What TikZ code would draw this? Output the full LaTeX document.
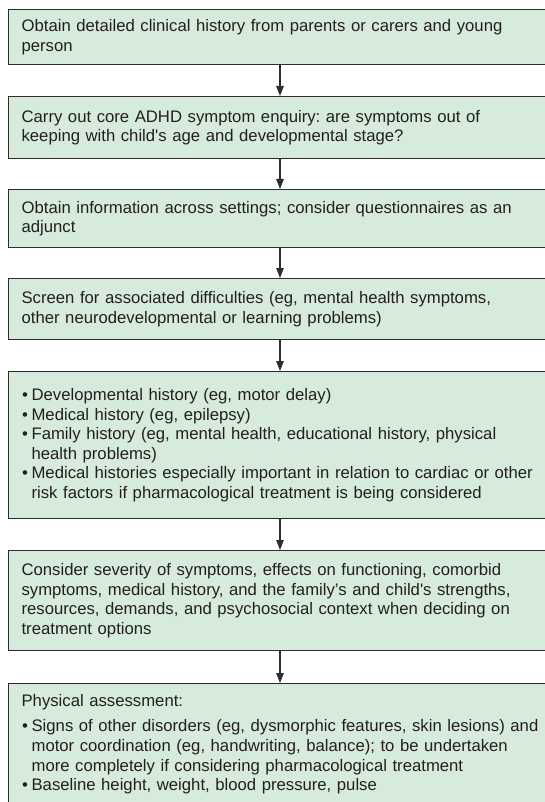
\documentclass[tikz,border=0pt]{standalone}
\usepackage{fontspec}
\setmainfont{Liberation Sans}
\usetikzlibrary{arrows.meta}
\definecolor{boxfill}{RGB}{214,235,220}
\definecolor{boxline}{RGB}{45,45,45}
\definecolor{txt}{RGB}{35,31,32}
\newcommand{\bul}{\makebox[10pt][l]{\hspace{0.5pt}\textbullet}}
\newcommand{\cont}{\hspace*{10pt}}
\newcommand{\sq}{\textquotesingle}
\begin{document}
\frenchspacing
\begin{tikzpicture}[x=1pt,y=-1pt,
  stepbox/.style={draw=boxline, fill=boxfill, line width=1.2pt, anchor=north west,
    text width=560pt, inner xsep=13pt, inner ysep=0pt, align=left, text=txt,
    font=\fontsize{16.7}{19.6}\selectfont\frenchspacing},
  flowarrow/.style={draw=boxline, line width=1.1pt, -{Triangle[length=10pt,width=7.5pt]}}]
\useasboundingbox (0,0) rectangle (545,802);
\clip (0,0) rectangle (545,802);
\coordinate (ax) at (280,0);
\node[stepbox, minimum height=55pt] (b1) at (8,9)
  {Obtain detailed clinical history from parents or carers and young\\person};
\node[stepbox, minimum height=62pt] (b2) at (8,96)
  {Carry out core ADHD symptom enquiry: are symptoms out of\\keeping with child\sq s age and developmental stage?};
\node[stepbox, minimum height=58pt] (b3) at (8,189)
  {Obtain information across settings; consider questionnaires as an\\adjunct};
\node[stepbox, minimum height=61pt] (b4) at (8,278)
  {Screen for associated difficulties (eg, mental health symptoms,\\other neurodevelopmental or learning problems)};
\node[stepbox, minimum height=147pt] (b5) at (8,371)
  {\bul Developmental history (eg, motor delay)\\
   \bul Medical history (eg, epilepsy)\\
   \bul Family history (eg, mental health, educational history, physical\\
   \cont health problems)\\
   \bul Medical histories especially important in relation to cardiac or other\\
   \cont risk factors if pharmacological treatment is being considered};
\node[stepbox, minimum height=100pt] (b6) at (8,550)
  {Consider severity of symptoms, effects on functioning, comorbid\\
   symptoms, medical history, and the family’s and child\sq s strengths,\\
   resources, demands, and psychosocial context when deciding on\\
   treatment options};
\node[stepbox, inner ysep=10.5pt] (b7) at (8,683)
  {Physical assessment:\\[6pt]
   \bul Signs of other disorders (eg, dysmorphic features, skin lesions) and\\
   \cont motor coordination (eg, handwriting, balance); to be undertaken\\
   \cont more completely if considering pharmacological treatment\\
   \bul Baseline height, weight, blood pressure, pulse\\
   \mbox{}\\ \mbox{}};
\draw[flowarrow] (b1.south -| ax) -- (b2.north -| ax);
\draw[flowarrow] (b2.south -| ax) -- (b3.north -| ax);
\draw[flowarrow] (b3.south -| ax) -- (b4.north -| ax);
\draw[flowarrow] (b4.south -| ax) -- (b5.north -| ax);
\draw[flowarrow] (b5.south -| ax) -- (b6.north -| ax);
\draw[flowarrow] (b6.south -| ax) -- (b7.north -| ax);
\end{tikzpicture}
\end{document}
